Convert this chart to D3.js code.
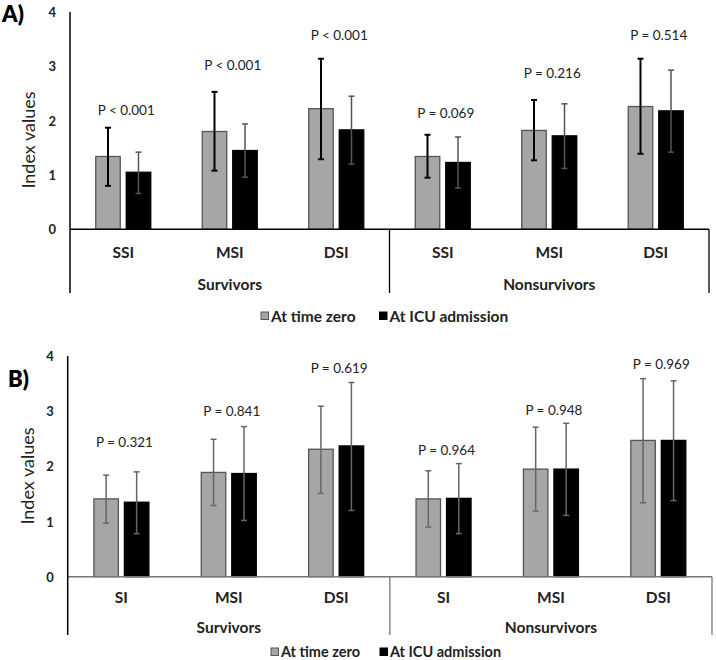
<!DOCTYPE html>
<html><head><meta charset="utf-8">
<script src="https://cdn.jsdelivr.net/npm/d3@7"></script>
<style>body{margin:0;background:#fff}svg{display:block}text{font-family:Lato,"Open Sans",sans-serif}</style>
</head><body>
<script>
// ---------- data ----------
const groups = ["Survivors", "Nonsurvivors"];
const seriesNames = ["At time zero", "At ICU admission"];
const categoriesA = ["SSI", "MSI", "DSI"];
const categoriesB = ["SI", "MSI", "DSI"];
const yTicks = [0, 1, 2, 3, 4];

// Panel A (Survivors SSI, MSI, DSI, Nonsurvivors SSI, MSI, DSI)
const zeroA      = [1.34, 1.80, 2.22, 1.34, 1.82, 2.26];
const zeroA_hi   = [1.87, 2.53, 3.14, 1.74, 2.38, 3.14];
const zeroA_lo   = [0.80, 1.08, 1.29, 0.95, 1.27, 1.39];
const icuA       = [1.05, 1.45, 1.83, 1.23, 1.72, 2.18];
const icuA_hi    = [1.42, 1.94, 2.45, 1.70, 2.31, 2.93];
const icuA_lo    = [0.66, 0.96, 1.20, 0.76, 1.12, 1.42];
const pLabelsA   = ["P < 0.001", "P < 0.001", "P < 0.001", "P = 0.069", "P = 0.216", "P = 0.514"];
const pLevelA    = [2.20, 3.03, 3.58, 2.14, 2.88, 3.58];

// Panel B
const zeroB      = [1.41, 1.89, 2.31, 1.41, 1.95, 2.47];
const zeroB_hi   = [1.84, 2.49, 3.09, 1.92, 2.71, 3.59];
const zeroB_lo   = [0.97, 1.29, 1.51, 0.90, 1.19, 1.34];
const icuB       = [1.35, 1.87, 2.37, 1.42, 1.95, 2.47];
const icuB_hi    = [1.90, 2.72, 3.52, 2.05, 2.78, 3.55];
const icuB_lo    = [0.78, 1.02, 1.20, 0.78, 1.11, 1.38];
const pLabelsB   = ["P = 0.321", "P = 0.841", "P = 0.619", "P = 0.964", "P = 0.948", "P = 0.969"];
const pLevelB    = [2.45, 3.00, 3.78, 2.30, 3.02, 3.85];

// ---------- drawing ----------
const W = 716, H = 660;
const svg = d3.select("body").append("svg").attr("width", W).attr("height", H);

function panel(cfg) {
  const g = svg.append("g");
  const keys = [];
  groups.forEach(gr => cfg.cats.forEach(c => keys.push(gr + "|" + c)));
  const x = d3.scaleBand().domain(keys).range([cfg.x0, cfg.x1]).padding(0);
  const x1 = d3.scaleBand().domain(seriesNames).range([-27.5, 27.5]).paddingInner(0.197).paddingOuter(0);
  const y = d3.scaleLinear().domain([0, 4]).range([cfg.zeroY, cfg.topY]);
  const cx = k => x(k) + x.bandwidth() / 2;

  const rows = keys.map((k, i) => ({
    k, i,
    vals: [
      {s: seriesNames[0], v: cfg.zero[i], hi: cfg.zeroHi[i], lo: cfg.zeroLo[i]},
      {s: seriesNames[1], v: cfg.icu[i], hi: cfg.icuHi[i], lo: cfg.icuLo[i]}
    ]
  }));

  // y tick labels
  g.selectAll(".ytick").data(yTicks).join("text")
    .attr("x", cfg.x0 - 14).attr("y", d => y(d)).attr("text-anchor", "end")
    .attr("dominant-baseline", "central").attr("font-size", 13).attr("font-weight", 700)
    .attr("fill", "#222").text(d => d);

  // bars
  rows.forEach(r => {
    const bg = g.append("g");
    bg.selectAll("rect").data(r.vals).join("rect")
      .attr("x", d => cx(r.k) + x1(d.s)).attr("width", x1.bandwidth())
      .attr("y", d => y(d.v)).attr("height", d => y(0) - y(d.v))
      .attr("fill", (d, j) => j === 0 ? "#a6a6a6" : "#000")
      .attr("stroke", (d, j) => j === 0 ? "#555" : "#000").attr("stroke-width", 1.3);
    // error bars
    r.vals.forEach((d, j) => {
      const ex = cx(r.k) + x1(d.s) + x1.bandwidth() / 2;
      const col = cfg.errColor[j], sw = cfg.errWidth[j], cap = 3;
      const eg = g.append("g").attr("stroke", col).attr("stroke-width", sw);
      eg.append("line").attr("x1", ex).attr("x2", ex).attr("y1", y(d.hi)).attr("y2", y(d.lo));
      eg.append("line").attr("x1", ex - cap).attr("x2", ex + cap).attr("y1", y(d.hi)).attr("y2", y(d.hi));
      eg.append("line").attr("x1", ex - cap).attr("x2", ex + cap).attr("y1", y(d.lo)).attr("y2", y(d.lo));
    });
  });

  // p labels
  g.selectAll(".plab").data(rows).join("text")
    .attr("x", d => cx(d.k) + 3).attr("y", d => y(cfg.pLevel[d.i]))
    .attr("text-anchor", "middle").attr("dominant-baseline", "central")
    .attr("font-size", 13.5).attr("fill", "#222").text(d => cfg.pLabels[d.i]);

  // axes lines
  const bottom = cfg.bottomY;
  const mid = (cfg.x0 + cfg.x1) / 2;
  g.append("line").attr("x1", cfg.x0).attr("x2", cfg.x1).attr("y1", y(0)).attr("y2", y(0))
    .attr("stroke", cfg.hColor).attr("stroke-width", 1.5);
  g.append("line").attr("x1", cfg.x0).attr("x2", cfg.x0).attr("y1", cfg.topY).attr("y2", bottom)
    .attr("stroke", "#000").attr("stroke-width", 1.5);
  [mid, cfg.x1].forEach(xx => g.append("line").attr("x1", xx).attr("x2", xx).attr("y1", y(0)).attr("y2", bottom)
    .attr("stroke", cfg.hColor).attr("stroke-width", 1.3));

  // category labels
  g.selectAll(".cat").data(keys).join("text")
    .attr("x", d => cx(d)).attr("y", cfg.catY).attr("text-anchor", "middle")
    .attr("dominant-baseline", "central").attr("font-size", 15.5).attr("font-weight", 700)
    .attr("fill", "#222").text(d => d.split("|")[1]);
  g.selectAll(".grp").data(groups).join("text")
    .attr("x", (d, i) => i === 0 ? (cfg.x0 + mid) / 2 : (mid + cfg.x1) / 2).attr("y", cfg.grpY)
    .attr("text-anchor", "middle").attr("dominant-baseline", "central")
    .attr("font-size", 15.5).attr("font-weight", 700).attr("fill", "#222").text(d => d);

  // y label
  g.append("text").attr("transform", `translate(${cfg.ylabX},${cfg.ylabY}) rotate(-90)`)
    .attr("text-anchor", "middle").attr("dominant-baseline", "central")
    .attr("font-size", 18).attr("fill", "#222").text("Index values");

  // panel letter
  g.append("text").attr("x", cfg.letterX).attr("y", cfg.letterY).attr("dominant-baseline", "central")
    .attr("font-size", 22).attr("font-weight", 800).attr("fill", "#000").text(cfg.letter);

  // legend
  const lg = g.append("g");
  const items = [{s: seriesNames[0], x: cfg.legX[0]}, {s: seriesNames[1], x: cfg.legX[1]}];
  items.forEach((it, j) => {
    lg.append("rect").attr("x", it.x).attr("y", cfg.legY - 3.5).attr("width", 7.5).attr("height", 7.5)
      .attr("fill", j === 0 ? "#a6a6a6" : "#000").attr("stroke", j === 0 ? "#555" : "#000").attr("stroke-width", 1);
    lg.append("text").attr("x", it.x + 10).attr("y", cfg.legY).attr("dominant-baseline", "central")
      .attr("font-size", cfg.legFont).attr("font-weight", 700).attr("fill", "#222").text(it.s);
  });
}

panel({
  letter: "A)", letterX: 2, letterY: 13,
  cats: categoriesA, x0: 70, x1: 709, zeroY: 229.3, topY: 12, bottomY: 293,
  zero: zeroA, zeroHi: zeroA_hi, zeroLo: zeroA_lo, icu: icuA, icuHi: icuA_hi, icuLo: icuA_lo,
  pLabels: pLabelsA, pLevel: pLevelA,
  errColor: ["#000", "#555"], errWidth: [2, 1.5], hColor: "#000",
  catY: 251.7, grpY: 284.3, ylabX: 28, ylabY: 140,
  legX: [261, 379.5], legY: 315.5, legFont: 15.5
});
panel({
  letter: "B)", letterX: 8, letterY: 378,
  cats: categoriesB, x0: 67.7, x1: 712, zeroY: 576.7, topY: 356, bottomY: 635,
  zero: zeroB, zeroHi: zeroB_hi, zeroLo: zeroB_lo, icu: icuB, icuHi: icuB_hi, icuLo: icuB_lo,
  pLabels: pLabelsB, pLevel: pLevelB,
  errColor: ["#666", "#666"], errWidth: [1.5, 1.5], hColor: "#777",
  catY: 596.7, grpY: 626.7, ylabX: 27, ylabY: 476,
  legX: [271, 380], legY: 651.5, legFont: 14.5
});
</script>
</body></html>
